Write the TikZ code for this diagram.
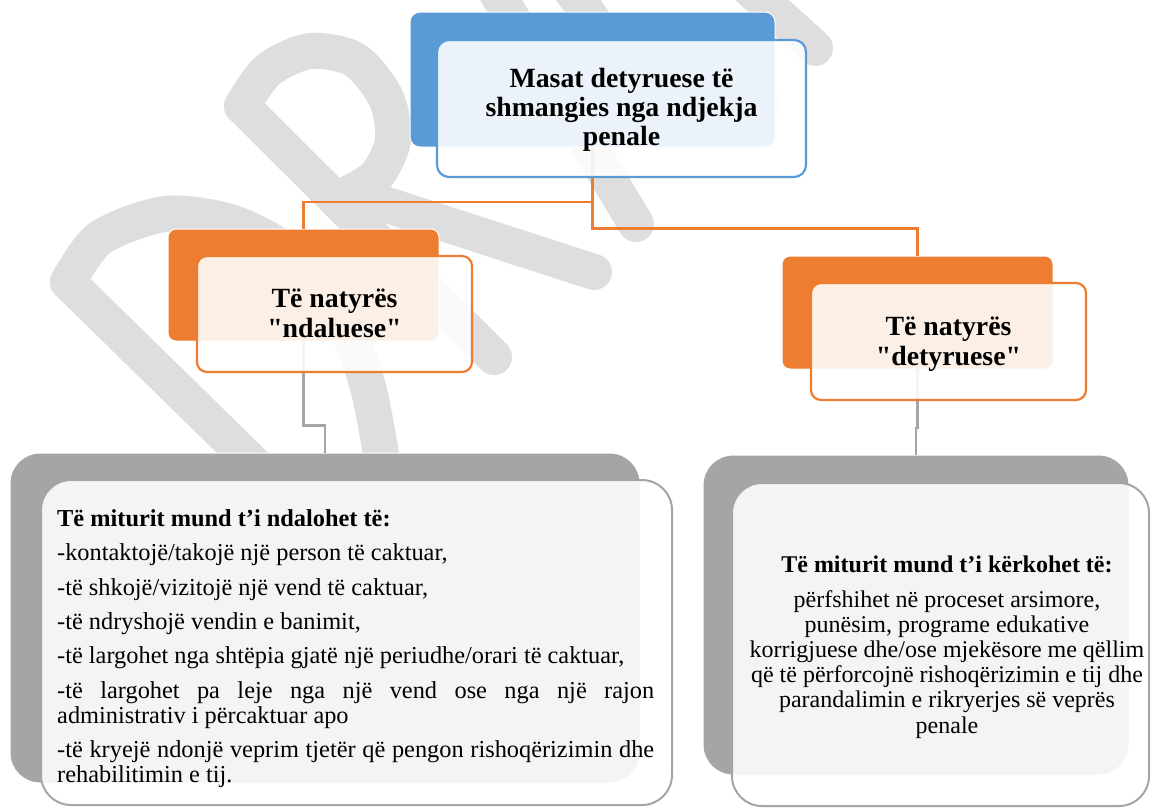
\documentclass[tikz,border=0pt]{standalone}
\usepackage{fontspec}
\setmainfont{Liberation Serif}[Ligatures=TeXOff]
\definecolor{cblue}{HTML}{5B9BD5}
\definecolor{corange}{HTML}{ED7D31}
\definecolor{cgray}{HTML}{A5A5A5}
\definecolor{wm}{HTML}{DEDEDE}
\tikzset{
  wmline/.style={draw=wm, line width=36pt, line cap=round, line join=round},
  backbox/.style={rectangle, draw=white, line width=1pt, inner sep=0pt, outer sep=0pt},
  frontbox/.style={rectangle, fill=white, fill opacity=0.88, line width=2.2pt, inner sep=0pt, outer sep=0pt},
  oconn/.style={draw=corange, line width=2.2pt},
  gconn/.style={draw=cgray, line width=2.2pt},
  titletext/.style={align=center, inner sep=0pt, font=\fontsize{27.8}{29.3}\selectfont\bfseries},
}
\begin{document}
\begin{tikzpicture}[x=1pt, y=-1pt]
\useasboundingbox (0,0) rectangle (1151,809);
\fill[white] (0,0) rectangle (1151,809);

% watermark
\draw[wmline] (262,472) -- (68,282);
\draw[wmline] plot[smooth] coordinates {(68,282) (100,238) (165,214) (230,222) (285,250) (325,292) (352,340) (370,395) (384,472)};
\draw[wmline] (242,106) -- (494,357);
\draw[wmline] plot[smooth] coordinates {(242,106) (268,70) (310,51) (355,60) (386,98) (393,140) (377,175) (350,193)};
\draw[wmline] (350,193) -- (594,272);
\draw[wmline] (486,-25) -- (636,224);
\draw[wmline] (560,-25) -- (600,30);
\draw[wmline] (720,85) -- (762,103);
\draw[wmline] (740,-20) -- (815,48);

% back boxes
\node[backbox, fill=cblue, rounded corners=10pt, minimum width=365pt, minimum height=135pt] (tb) at (592.5,79.5) {};
\node[backbox, fill=corange, rounded corners=8pt, minimum width=271pt, minimum height=112pt] (lb) at (303.5,285) {};
\node[backbox, fill=corange, rounded corners=8pt, minimum width=271pt, minimum height=113pt] (rb) at (917.5,312.5) {};
\node[backbox, fill=cgray, rounded corners=30pt, minimum width=630pt, minimum height=330pt] (gl) at (325,618) {};
\node[backbox, fill=cgray, rounded corners=30pt, minimum width=426pt, minimum height=320pt] (gr) at (916,615) {};

% connectors
\coordinate (yl) at (0,202);
\coordinate (yr) at (0,228.5);
\coordinate (yg1) at (0,425.5);
\coordinate (yg2) at (0,428);
\draw[oconn] (tb.south) -- (tb.south |- yl) -| (lb.north);
\draw[oconn] (tb.south) -- (tb.south |- yr) -| (rb.north);
\draw[gconn] (lb.south) -- (lb.south |- yg1) -| (gl.north);
\draw[gconn] (rb.south) -- (rb.south |- yg2) -| (gr.north);

% front boxes
\node[frontbox, draw=cblue, rounded corners=12pt, minimum width=369pt, minimum height=137pt] (tf) at (621.5,108.5) {};
\node[frontbox, draw=corange, rounded corners=10pt, minimum width=275pt, minimum height=116pt] (lf) at (334.5,314) {};
\node[frontbox, draw=corange, rounded corners=10pt, minimum width=275pt, minimum height=117pt] (rf) at (948.5,341.5) {};
\node[frontbox, draw=cgray, line width=2pt, rounded corners=30pt, minimum width=631pt, minimum height=325pt] (glf) at (356.5,642.5) {};
\node[frontbox, draw=cgray, line width=2pt, rounded corners=30pt, minimum width=417pt, minimum height=323pt] (grf) at (940.5,644.5) {};

% texts
\node[titletext] (ttop) at (621.5,109.75) {Masat detyruese të\\shmangies nga ndjekja\\penale};
\node[titletext] (tl) at (334.5,313.45) {Të natyrës\\"ndaluese"};
\node[titletext] (tr) at (948.5,344.1) {Të natyrës\\"detyruese"};

\node[anchor=north west, text width=597pt, align=justify, inner sep=0pt,
      font=\fontsize{24.35}{24.7}\selectfont] (bl) at (57,509.2)
  {\setlength{\parskip}{9.7pt}\hyphenpenalty=10000\exhyphenpenalty=10000\tolerance=10000
   \textbf{Të miturit mund t’i ndalohet të:}\par
   -kontaktojë/takojë një person të caktuar,\par
   -të shkojë/vizitojë një vend të caktuar,\par
   -të ndryshojë vendin e banimit,\par
   -të largohet nga shtëpia gjatë një periudhe/orari të caktuar,\par
   -të largohet pa leje nga një vend ose nga një rajon\linebreak administrativ i përcaktuar apo\par
   -të kryejë ndonjë veprim tjetër që pengon rishoqërizimin dhe\linebreak rehabilitimin e tij.\par};

\node[anchor=north, align=center, inner sep=0pt, font=\fontsize{24}{25.2}\selectfont] (br) at (947,555.2)
  {\textbf{Të miturit mund t’i kërkohet të:}\\[9.8pt]
   përfshihet në proceset arsimore,\\
   punësim, programe edukative\\
   korrigjuese dhe/ose mjekësore me qëllim\\
   që të përforcojnë rishoqërizimin e tij dhe\\
   parandalimin e rikryerjes së veprës\\
   penale};
\end{tikzpicture}
\end{document}
